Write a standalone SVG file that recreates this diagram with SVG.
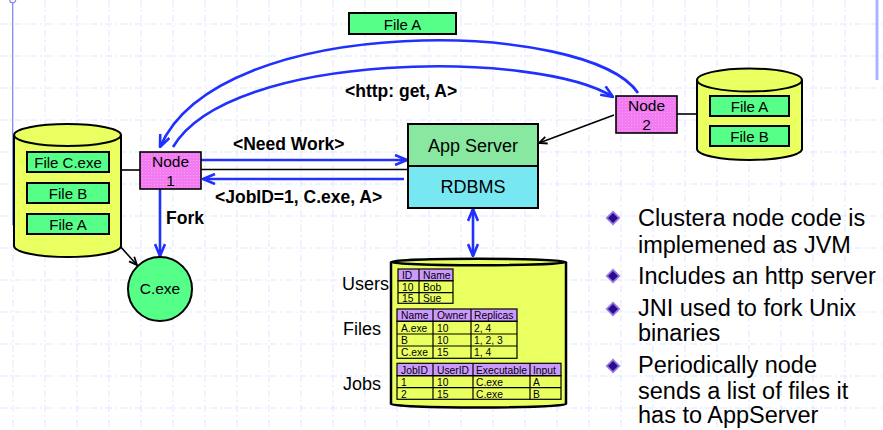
<svg xmlns="http://www.w3.org/2000/svg" width="883" height="430" viewBox="0 0 883 430">
  <style>
    text { font-family: "Liberation Sans", Arial, sans-serif; fill: #000; }
    .grid line { stroke: #dfe5ff; stroke-width: 1; stroke-dasharray: 7 3 2 3; }
    .cyl { fill: #eaff60; stroke: #000; stroke-width: 2; }
    .file { fill: #55ff88; stroke: #000; stroke-width: 2; }
    .node { fill: url(#dots); stroke: #000; stroke-width: 1.6; }
    .blue { stroke: #2030ff; stroke-width: 2.6; fill: none; }
    .blk { stroke: #000; stroke-width: 1.6; fill: none; }
    .lbl { font-size: 15px; text-anchor: middle; }
    .nd { font-size: 15.5px; text-anchor: middle; }
    .bold { font-weight: bold; font-size: 17.5px; }
    .big { font-size: 18px; }
    .bul { font-size: 23.5px; }
    .tb { font-size: 10.3px; }
    .hd { fill: #cc99ff; stroke: #000; stroke-width: 1.2; }
    .cell { fill: none; stroke: #000; stroke-width: 1.2; }
  </style>
  <defs>
    <pattern id="dots" width="3" height="3" patternUnits="userSpaceOnUse">
      <rect width="3" height="3" fill="#f27bf2"/>
      <rect x="1" y="1" width="1" height="1" fill="#ffffff" opacity="0.25"/>
    </pattern>
    <marker id="ab" viewBox="0 0 14 12" refX="13" refY="6" markerWidth="14" markerHeight="12" markerUnits="userSpaceOnUse" orient="auto-start-reverse">
      <path d="M1,1 L13,6 L1,11" fill="none" stroke="#2030ff" stroke-width="2.6" stroke-linejoin="miter"/>
    </marker>
    <marker id="ak" viewBox="0 0 10 10" refX="9" refY="5" markerWidth="10" markerHeight="10" markerUnits="userSpaceOnUse" orient="auto-start-reverse">
      <path d="M1,1.5 L9,5 L1,8.5" fill="none" stroke="#000" stroke-width="1.8"/>
    </marker>
    <g id="diamond">
      <path d="M0,-7.5 L7.5,0 L0,7.5 L-7.5,0 Z" fill="#9a7ae0"/>
      <path d="M0,-5 L5,0 L0,5 L-5,0 Z" fill="#2a0a90"/>
    </g>
  </defs>

  <rect width="883" height="430" fill="#ffffff"/>

  <!-- background grid -->
  <g class="grid">
    <line x1="45" y1="0" x2="45" y2="430"/><line x1="77" y1="0" x2="77" y2="430"/>
    <line x1="109" y1="0" x2="109" y2="430"/><line x1="141" y1="0" x2="141" y2="430"/>
    <line x1="173" y1="0" x2="173" y2="430"/><line x1="205" y1="0" x2="205" y2="430"/>
    <line x1="237" y1="0" x2="237" y2="430"/><line x1="269" y1="0" x2="269" y2="430"/>
    <line x1="301" y1="0" x2="301" y2="430"/><line x1="333" y1="0" x2="333" y2="430"/>
    <line x1="365" y1="0" x2="365" y2="430"/><line x1="397" y1="0" x2="397" y2="430"/>
    <line x1="429" y1="0" x2="429" y2="430"/><line x1="461" y1="0" x2="461" y2="430"/>
    <line x1="493" y1="0" x2="493" y2="430"/><line x1="525" y1="0" x2="525" y2="430"/>
    <line x1="557" y1="0" x2="557" y2="430"/><line x1="589" y1="0" x2="589" y2="430"/>
    <line x1="621" y1="0" x2="621" y2="430"/><line x1="653" y1="0" x2="653" y2="430"/>
    <line x1="685" y1="0" x2="685" y2="430"/><line x1="717" y1="0" x2="717" y2="430"/>
    <line x1="749" y1="0" x2="749" y2="430"/><line x1="781" y1="0" x2="781" y2="430"/>
    <line x1="813" y1="0" x2="813" y2="430"/><line x1="845" y1="0" x2="845" y2="430"/>
    <line x1="13" y1="225" x2="13" y2="430"/>
    <line x1="0" y1="24" x2="883" y2="24"/><line x1="0" y1="56" x2="883" y2="56"/>
    <line x1="0" y1="88" x2="883" y2="88"/><line x1="0" y1="120" x2="883" y2="120"/>
    <line x1="0" y1="152" x2="883" y2="152"/><line x1="0" y1="184" x2="883" y2="184"/>
    <line x1="0" y1="216" x2="883" y2="216"/><line x1="0" y1="248" x2="883" y2="248"/>
    <line x1="0" y1="280" x2="883" y2="280"/><line x1="0" y1="312" x2="883" y2="312"/>
    <line x1="0" y1="344" x2="883" y2="344"/><line x1="0" y1="376" x2="883" y2="376"/>
    <line x1="0" y1="408" x2="883" y2="408"/>
  </g>
  <!-- page margin rules -->
  <line x1="12.7" y1="2" x2="12.7" y2="225" stroke="#7f8cf4" stroke-width="1.3"/>
  <circle cx="12.7" cy="0" r="3" fill="none" stroke="#7f8cf4" stroke-width="1.2"/>
  <line x1="877" y1="0" x2="877" y2="80" stroke="#aab4ff" stroke-width="3"/>

  <!-- connectors -->
  <g id="connectors">
    <path class="blue" d="M638,93 C590,20 220,10 160,147" marker-end="url(#ab)"/>
    <path class="blue" d="M173,147 C230,50 540,50 613,97" marker-end="url(#ab)"/>
    <line class="blk" x1="121" y1="170" x2="140" y2="170"/>
    <line class="blue" x1="201" y1="160" x2="407" y2="160" marker-end="url(#ab)"/>
    <line class="blk" x1="201" y1="169.5" x2="409" y2="169.5"/>
    <line class="blue" x1="404" y1="179" x2="203" y2="179" marker-end="url(#ab)"/>
    <line class="blue" x1="160" y1="189" x2="160" y2="256" marker-end="url(#ab)"/>
    <line class="blk" x1="110" y1="235" x2="137" y2="265" marker-start="url(#ak)" marker-end="url(#ak)"/>
    <line class="blk" x1="677" y1="114" x2="699" y2="114"/>
    <line class="blk" x1="614" y1="115" x2="539" y2="143" marker-end="url(#ak)"/>
    <line class="blue" x1="473" y1="209" x2="473" y2="256" marker-start="url(#ab)" marker-end="url(#ab)"/>
  </g>

  <!-- transferred file -->
  <g id="file-a-transfer">
    <rect class="file" x="349" y="13" width="107" height="21"/>
    <text class="lbl" x="402.5" y="30">File A</text>
  </g>

  <!-- connector labels -->
  <g id="labels">
    <text class="bold" x="345" y="97">&lt;http: get, A&gt;</text>
    <text class="bold" x="233" y="150">&lt;Need Work&gt;</text>
    <text class="bold" x="215" y="203">&lt;JobID=1, C.exe, A&gt;</text>
    <text class="bold" x="166" y="224">Fork</text>
  </g>

  <!-- storage of node 1 -->
  <g id="store1">
    <path class="cyl" d="M14,135 V246 A53.5,11 0 0 0 121,246 V135"/>
    <ellipse class="cyl" cx="67.5" cy="135" rx="53.5" ry="11"/>
    <rect class="file" x="27" y="152" width="82" height="20"/>
    <text class="lbl" x="68" y="168">File C.exe</text>
    <rect class="file" x="27" y="183" width="82" height="20"/>
    <text class="lbl" x="68" y="199">File B</text>
    <rect class="file" x="27" y="214" width="82" height="20"/>
    <text class="lbl" x="68" y="230">File A</text>
  </g>

  <g id="node1">
    <rect class="node" x="140" y="152" width="61" height="37"/>
    <text class="nd" x="170.5" y="167">Node</text>
    <text class="nd" x="170.5" y="186">1</text>
  </g>

  <g id="cexe">
    <circle cx="160" cy="289" r="32" fill="#55ff88" stroke="#000" stroke-width="2"/>
    <text class="nd" x="160" y="294">C.exe</text>
  </g>

  <g id="appserver">
    <rect x="408" y="124" width="130" height="42" fill="#88e8a0" stroke="#000" stroke-width="2"/>
    <text class="big" x="473" y="152" text-anchor="middle">App Server</text>
  </g>
  <g id="rdbms">
    <rect x="408" y="166" width="130" height="42" fill="#77e8f2" stroke="#000" stroke-width="2"/>
    <text class="big" x="473" y="193" text-anchor="middle">RDBMS</text>
  </g>

  <g id="node2">
    <rect class="node" x="616" y="96" width="61" height="37"/>
    <text class="nd" x="646.5" y="111">Node</text>
    <text class="nd" x="646.5" y="130">2</text>
  </g>

  <g id="store2">
    <path class="cyl" d="M697,80 V149 A52.5,11 0 0 0 802,149 V80"/>
    <ellipse class="cyl" cx="749.5" cy="80" rx="52.5" ry="11.5"/>
    <rect class="file" x="710" y="96" width="79" height="20"/>
    <text class="lbl" x="749.5" y="112">File A</text>
    <rect class="file" x="710" y="126" width="79" height="20"/>
    <text class="lbl" x="749.5" y="142">File B</text>
  </g>

  <!-- database with its tables -->
  <g id="database">
    <path d="M391,262 V404 A87.5,3.5 0 0 0 566,404 V262" fill="#eaff60" stroke="#000" stroke-width="2.5"/>
    <ellipse cx="478.5" cy="262" rx="87.5" ry="3.2" fill="#eaff60" stroke="#000" stroke-width="2.5"/>

    <text class="big" x="342" y="290">Users</text>
    <text class="big" x="343" y="335">Files</text>
    <text class="big" x="343" y="390">Jobs</text>

    <g class="tb">
      <!-- Users -->
      <rect class="hd" x="398" y="269" width="55" height="11.7"/>
      <rect class="cell" x="398" y="280.7" width="55" height="22.6"/>
      <line class="cell" x1="398" y1="292.7" x2="453" y2="292.7"/>
      <line class="cell" x1="419" y1="269" x2="419" y2="303.3"/>
      <text x="402" y="278.5">ID</text><text x="423" y="278.5">Name</text>
      <text x="402" y="290.5">10</text><text x="423" y="290.5">Bob</text>
      <text x="402" y="302">15</text><text x="423" y="302">Sue</text>

      <!-- Files -->
      <rect class="hd" x="397" y="309" width="120" height="12.3"/>
      <rect class="cell" x="397" y="321.3" width="120" height="37"/>
      <line class="cell" x1="397" y1="334" x2="517" y2="334"/>
      <line class="cell" x1="397" y1="346" x2="517" y2="346"/>
      <line class="cell" x1="433" y1="309" x2="433" y2="358.3"/>
      <line class="cell" x1="471" y1="309" x2="471" y2="358.3"/>
      <text x="401" y="319">Name</text><text x="437" y="319">Owner</text><text x="474" y="319">Replicas</text>
      <text x="401" y="331.5">A.exe</text><text x="437" y="331.5">10</text><text x="474" y="331.5">2, 4</text>
      <text x="401" y="343.5">B</text><text x="437" y="343.5">10</text><text x="474" y="343.5">1, 2, 3</text>
      <text x="401" y="356">C.exe</text><text x="437" y="356">15</text><text x="474" y="356">1, 4</text>

      <!-- Jobs -->
      <rect class="hd" x="397" y="363.3" width="164" height="12.4"/>
      <rect class="cell" x="397" y="375.7" width="164" height="23.6"/>
      <line class="cell" x1="397" y1="387.7" x2="561" y2="387.7"/>
      <line class="cell" x1="433" y1="363.3" x2="433" y2="399.3"/>
      <line class="cell" x1="473" y1="363.3" x2="473" y2="399.3"/>
      <line class="cell" x1="530" y1="363.3" x2="530" y2="399.3"/>
      <text x="401" y="373.5">JobID</text><text x="437" y="373.5">UserID</text><text x="476" y="373.5">Executable</text><text x="533" y="373.5">Input</text>
      <text x="401" y="385.5">1</text><text x="437" y="385.5">10</text><text x="476" y="385.5">C.exe</text><text x="533" y="385.5">A</text>
      <text x="401" y="397.5">2</text><text x="437" y="397.5">15</text><text x="476" y="397.5">C.exe</text><text x="533" y="397.5">B</text>
    </g>
  </g>

  <!-- bullet list -->
  <g id="notes">
    <use href="#diamond" x="613" y="218"/>
    <use href="#diamond" x="613" y="276"/>
    <use href="#diamond" x="613" y="309"/>
    <use href="#diamond" x="613" y="366"/>
    <text class="bul" x="638" y="226">Clustera node code is</text>
    <text class="bul" x="638" y="253">implemened as JVM</text>
    <text class="bul" x="638" y="284">Includes an http server</text>
    <text class="bul" x="638" y="316">JNI used to fork Unix</text>
    <text class="bul" x="638" y="341">binaries</text>
    <text class="bul" x="638" y="373">Periodically node</text>
    <text class="bul" x="638" y="399">sends a list of files it</text>
    <text class="bul" x="638" y="423">has to AppServer</text>
  </g>
</svg>
